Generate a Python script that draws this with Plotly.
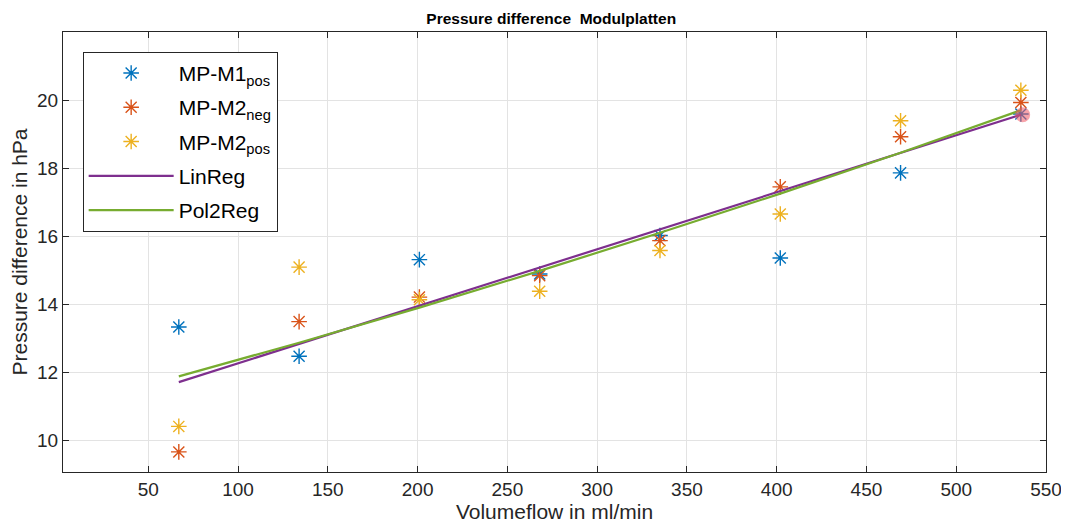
import plotly.graph_objects as go

# Data
flow = [67, 134, 201, 268, 335, 402, 469, 536]
mp_m1_pos = [13.33, 12.47, 15.31, 14.89, 16.02, 15.36, 17.86, 19.59]
mp_m2_neg = [9.66, 13.49, 14.21, 14.84, 15.87, 17.45, 18.92, 19.93]
mp_m2_pos = [10.41, 15.09, 14.13, 14.38, 15.58, 16.65, 19.39, 20.29]
lin_reg = [11.71, 12.83, 13.96, 15.08, 16.21, 17.33, 18.45, 19.57]
pol2_reg = [11.88, 12.87, 13.90, 14.98, 16.10, 17.25, 18.45, 19.70]
highlight_x = [537]
highlight_y = [19.57]

x_ticks = [50, 100, 150, 200, 250, 300, 350, 400, 450, 500, 550]
y_ticks = [10, 12, 14, 16, 18, 20]

C_BLUE = "#0072BD"
C_ORANGE = "#D95319"
C_YELLOW = "#EDB120"
C_PURPLE = "#7E2F8E"
C_GREEN = "#77AC30"
AX = "#262626"
FONT = "Liberation Sans, Arial, sans-serif"

fig = go.Figure()

def star(name, y, color, grp):
    fig.add_trace(go.Scatter(
        x=flow, y=y, mode="markers", name=name, legendgroup=grp,
        marker=dict(symbol="asterisk-open", size=13, color=color,
                    line=dict(color=color, width=1.4)),
    ))

star("MP-M1<sub>pos</sub>", mp_m1_pos, C_BLUE, "g1")
star("MP-M2<sub>neg</sub>", mp_m2_neg, C_ORANGE, "g2")
star("MP-M2<sub>pos</sub>", mp_m2_pos, C_YELLOW, "g3")

fig.add_trace(go.Scatter(x=flow, y=lin_reg, mode="lines", name="LinReg",
                         legendgroup="g4",
                         line=dict(color=C_PURPLE, width=2.2)))
fig.add_trace(go.Scatter(x=flow, y=pol2_reg, mode="lines", name="Pol2Reg",
                         legendgroup="g5",
                         line=dict(color=C_GREEN, width=2.2)))

fig.add_trace(go.Scatter(x=highlight_x, y=highlight_y, mode="markers",
                         showlegend=False, hoverinfo="skip",
                         marker=dict(symbol="circle", size=15,
                                     color="rgba(240,90,100,0.55)")))

axis_common = dict(
    showline=True, linecolor=AX, linewidth=1.2, mirror="ticks",
    ticks="inside", ticklen=6, tickcolor=AX, tickwidth=1.2,
    showgrid=True, gridcolor="#e3e3e3", gridwidth=1, zeroline=False,
    tickfont=dict(family=FONT, size=19, color=AX),
)

fig.update_xaxes(range=[2.5, 550], tickvals=x_ticks,
                 title=dict(text="Volumeflow in ml/min",
                            font=dict(family=FONT, size=21, color=AX),
                            standoff=4),
                 **axis_common)
fig.update_yaxes(range=[9.07, 22], tickvals=y_ticks,
                 title=dict(text="Pressure difference in hPa",
                            font=dict(family=FONT, size=21, color=AX),
                            standoff=4),
                 **axis_common)

# the page places the figure 8px from the top-left corner
fig.update_layout(
    width=1061, height=522,
    margin=dict(l=55, r=23, t=24, b=58, autoexpand=False),
    paper_bgcolor="white", plot_bgcolor="white",
    title=dict(text="<b>Pressure difference  Modulplatten</b>",
               x=0.512, xanchor="center", y=0.98, yanchor="middle",
               font=dict(family="Liberation Sans Narrow, Arial Narrow, sans-serif",
                         size=15.5, color="black")),
    legend=dict(x=0.02, y=0.955, xanchor="left", yanchor="top",
                bgcolor="white", bordercolor=AX, borderwidth=1,
                font=dict(family=FONT, size=21, color="black"),
                itemwidth=85, tracegroupgap=4),
    showlegend=True,
)

fig.write_html("out.html")
